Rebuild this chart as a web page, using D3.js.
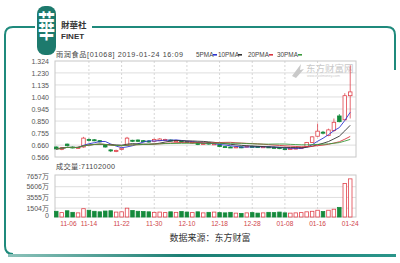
<!DOCTYPE html>
<html>
<head>
<meta charset="utf-8">
<script src="https://cdn.jsdelivr.net/npm/d3@7"></script>
<style>
  body { margin: 0; background: #fff; }
  svg text { font-family: "Liberation Sans", Arial, "Noto Sans CJK SC", sans-serif; }
</style>
</head>
<body>
<svg id="chart" width="400" height="263"></svg>
<script>
// ---- data ----
const dates = ["11-06","11-07","11-08","11-09","11-12","11-13","11-14","11-15","11-16","11-19",
  "11-20","11-21","11-22","11-23","11-26","11-27","11-28","11-29","11-30","12-03",
  "12-04","12-05","12-06","12-07","12-10","12-11","12-12","12-13","12-14","12-17",
  "12-18","12-19","12-20","12-21","12-24","12-27","12-28","12-31","01-02","01-03",
  "01-04","01-07","01-08","01-09","01-10","01-11","01-14","01-15","01-16","01-17",
  "01-18","01-21","01-22","01-23","01-24"];

const opens  = [.645,.625,.668,.645,.636,.645,.705,.702,.695,.665,
  .622,.610,.625,.660,.698,.700,.695,.692,.690,.695,
  .700,.700,.688,.692,.688,.676,.680,.666,.680,.668,
  .662,.648,.645,.642,.646,.645,.650,.648,.644,.646,
  .642,.640,.632,.630,.632,.636,.648,.680,.730,.762,
  .735,.775,.890,.860,1.050];
const highs  = [.650,.645,.672,.650,.648,.725,.712,.708,.700,.668,
  .628,.624,.640,.725,.702,.705,.700,.698,.712,.715,
  .710,.704,.700,.696,.692,.688,.685,.678,.684,.676,
  .665,.652,.650,.650,.650,.656,.655,.652,.650,.650,
  .648,.645,.638,.636,.640,.642,.685,.730,.830,.772,
  .790,.870,.905,1.070,1.290];
const lows   = [.625,.620,.650,.634,.630,.640,.690,.690,.680,.640,
  .605,.604,.620,.655,.684,.684,.682,.680,.686,.690,
  .694,.688,.684,.680,.676,.670,.660,.662,.664,.662,
  .643,.640,.638,.636,.636,.642,.644,.640,.640,.638,
  .636,.628,.625,.626,.628,.630,.646,.676,.725,.745,
  .730,.765,.840,.855,.870];
const closes = [.630,.640,.655,.640,.642,.715,.700,.698,.685,.645,
  .615,.618,.635,.715,.692,.690,.688,.686,.705,.708,
  .704,.692,.694,.685,.682,.684,.665,.672,.668,.670,
  .648,.645,.642,.646,.640,.652,.648,.645,.647,.642,
  .640,.632,.630,.633,.636,.640,.680,.725,.770,.755,
  .780,.840,.845,1.050,1.080];
// volume in 万 shares
const volumes = [900,650,1000,700,600,1400,1100,900,800,950,
  1000,750,800,1500,1050,900,850,800,700,750,
  650,800,700,850,750,650,800,600,700,750,
  650,600,700,550,500,600,650,550,600,700,
  650,750,600,550,600,650,800,900,1100,850,
  1100,1300,1650,6230,7110];

const priceTicks = [0.566,0.660,0.755,0.850,0.945,1.040,1.135,1.230,1.324];
const volTicks   = [0,1504,3555,5606,7657];
const dateTicks  = ["11-06","11-14","11-22","11-30","12-10","12-18","12-28","01-08","01-16","01-24"];
const maNames    = ["5PMA","10PMA","20PMA","30PMA"];
const maPeriods  = [5,10,20,30];
const maColors   = ["#2f35d0","#333333","#d8353f","#3d9a3d"];

const svg = d3.select("#chart");
const upColor = "#e0434c", downColor = "#158a3c";

const plot = {left: 55, right: 356};
const pTop = 61, pBottom = 157, vTop = 175, vBottom = 217;

const x  = d3.scaleBand().domain(dates).range([54.5, 352]).paddingInner(0.35);
const cx = d => x(d) + x.bandwidth() / 2;
const y  = d3.scaleLinear().domain([0.566, 1.324]).range([pBottom, pTop]);
const yv = d3.scaleLinear().domain([0, 7657]).range([216, 176]);

const data = dates.map((d, i) => ({date: d, open: opens[i], high: highs[i], low: lows[i], close: closes[i], vol: volumes[i]}));
const isUp = d => d.close >= d.open;

// ---- frame / branding ----
const defs = svg.append("defs");
const grad = defs.append("linearGradient").attr("id", "bar");
grad.append("stop").attr("offset", "0%").attr("stop-color", "#8cc2ba");
grad.append("stop").attr("offset", "45%").attr("stop-color", "#1c7f74");
grad.append("stop").attr("offset", "100%").attr("stop-color", "#2a958a");

svg.append("path")
  .attr("d", "M35,27 L13,27 Q5,27 5,35 L5,246 Q5,254 13,254")
  .attr("fill", "none").attr("stroke", "#1f8a7c").attr("stroke-width", 2);
svg.append("path")
  .attr("d", "M92,27 L387,27 Q395,27 395,35 L395,70")
  .attr("fill", "none").attr("stroke", "#1f8a7c").attr("stroke-width", 2);
svg.append("rect").attr("x", 8).attr("y", 254).attr("width", 388).attr("height", 3)
  .attr("fill", "url(#bar)");

svg.append("rect").attr("x", 37).attr("y", 6).attr("width", 19).attr("height", 49)
  .attr("rx", 8).attr("fill", "#1d7a6d");
svg.append("text").attr("x", 46.5).attr("y", 21).attr("text-anchor", "middle")
  .attr("transform", "scale(1,1.75)")
  .attr("font-size", 17).attr("fill", "#fff").attr("font-weight", "bold")
  .style("font-family", "'Noto Sans CJK TC'")
  .text("華");
svg.append("text").attr("x", 61).attr("y", 28).attr("font-size", 8.5)
  .attr("font-weight", "bold").attr("fill", "#333")
  .style("font-family", "'Noto Sans CJK TC'").text("財華社");
svg.append("text").attr("x", 61).attr("y", 38.5).attr("font-size", 8)
  .attr("font-weight", "bold").attr("fill", "#333").text("FINET");

// ---- grids ----
const grid = svg.append("g");
grid.selectAll(".hp").data(priceTicks.slice(1, -1)).join("line")
  .attr("x1", plot.left).attr("x2", plot.right)
  .attr("y1", d => y(d)).attr("y2", d => y(d))
  .attr("stroke", "#dedede").attr("stroke-width", 1);
grid.selectAll(".hv").data(volTicks.slice(1, -1)).join("line")
  .attr("class", "hv")
  .attr("x1", plot.left).attr("x2", plot.right)
  .attr("y1", d => yv(d)).attr("y2", d => yv(d))
  .attr("stroke", "#dedede").attr("stroke-width", 1);
[[pTop, pBottom], [vTop, vBottom]].forEach(([t, b]) => {
  grid.append("g").selectAll("line").data(dateTicks.slice(1, -1)).join("line")
    .attr("x1", d => cx(d)).attr("x2", d => cx(d))
    .attr("y1", t).attr("y2", b)
    .attr("stroke", "#d6d6d6").attr("stroke-dasharray", "2,2");
  svg.append("rect").attr("x", plot.left).attr("y", t)
    .attr("width", plot.right - plot.left).attr("height", b - t)
    .attr("fill", "none").attr("stroke", "#c8c8c8");
});

// watermark
const wm = svg.append("g").attr("fill", "#c9c9c9");
wm.append("path").attr("d", "M292,76 L301,64 L300,70 L304,69 L296,78 Z");
wm.append("text").attr("x", 306).attr("y", 72).attr("font-size", 9.5)
  .style("font-family", "'Noto Sans CJK SC'").text("东方财富网");
wm.append("text").attr("x", 307).attr("y", 77).attr("font-size", 3.5).text("www.eastmoney.com");

// ---- axes ----
const axP = svg.append("g").attr("transform", `translate(${plot.left - 3},0)`)
  .call(d3.axisLeft(y).tickValues(priceTicks).tickSize(0).tickFormat(d3.format(".3f")));
const axV = svg.append("g").attr("transform", `translate(${plot.left - 3},0)`)
  .call(d3.axisLeft(yv).tickValues(volTicks).tickSize(0).tickFormat(d => d === 0 ? "0" : d + "万"));
axV.selectAll(".tick").filter(d => d === 0).attr("transform", `translate(0,${vBottom - 1})`);
const axD = svg.append("g").attr("transform", `translate(0,${vBottom + 1})`)
  .call(d3.axisBottom(x).tickValues(dateTicks).tickSize(0));
[axP, axV, axD].forEach(a => {
  a.select(".domain").remove();
  a.selectAll("text").attr("font-size", 7).attr("fill", "#555")
    .style("font-family", "'Liberation Sans','Noto Sans CJK SC'");
});
axD.selectAll("text").attr("fill", "#d0454a").attr("font-size", 6.6).attr("dy", "0.8em");
axD.selectAll(".tick").filter(d => d === "11-06").select("text")
  .attr("text-anchor", "start").attr("dx", 4);

// ---- titles ----
svg.append("text").attr("x", 56).attr("y", 57).attr("font-size", 7.2).attr("fill", "#444")
  .attr("textLength", 127).attr("lengthAdjust", "spacing")
  .text("雨润食品[01068] 2019-01-24 16:09");
svg.append("text").attr("x", 56).attr("y", 169).attr("font-size", 7.2).attr("fill", "#444")
  .attr("textLength", 59).attr("lengthAdjust", "spacing")
  .text("成交量:71102000");

const legend = svg.append("g").selectAll("g").data(maNames).join("g")
  .attr("transform", (d, i) => `translate(${[196, 218, 248, 277][i]},57)`);
legend.append("text").attr("font-size", 6.4).attr("fill", "#444").text(d => d);
legend.append("rect").attr("x", (d, i) => [17, 20, 21, 21][i]).attr("y", -3)
  .attr("width", 4).attr("height", 1.6).attr("fill", (d, i) => maColors[i]);

// ---- candles ----
const candles = svg.append("g").selectAll("g").data(data).join("g");
candles.append("line")
  .attr("x1", d => cx(d.date)).attr("x2", d => cx(d.date))
  .attr("y1", d => y(d.high)).attr("y2", d => y(d.low))
  .attr("stroke", d => isUp(d) ? upColor : downColor).attr("stroke-width", 0.8);
candles.append("rect")
  .attr("x", d => x(d.date)).attr("width", x.bandwidth())
  .attr("y", d => y(Math.max(d.open, d.close)))
  .attr("height", d => Math.max(1, Math.abs(y(d.open) - y(d.close))))
  .attr("fill", d => isUp(d) ? "#fff" : downColor)
  .attr("stroke", d => isUp(d) ? upColor : downColor).attr("stroke-width", 0.8);

// moving averages
maPeriods.forEach((p, k) => {
  const ma = closes.map((c, i) => d3.mean(closes.slice(Math.max(0, i - p + 1), i + 1)));
  svg.append("path")
    .attr("d", d3.line().x((v, i) => cx(dates[i])).y(v => y(v))(ma))
    .attr("fill", "none").attr("stroke", maColors[k]).attr("stroke-width", 0.9);
});

// ---- volume ----
svg.append("g").selectAll("rect").data(data).join("rect")
  .attr("x", d => x(d.date)).attr("width", x.bandwidth())
  .attr("y", d => yv(d.vol)).attr("height", d => yv(0) - yv(d.vol) + 1)
  .attr("fill", d => isUp(d) ? "#fff" : downColor)
  .attr("stroke", d => isUp(d) ? upColor : downColor).attr("stroke-width", 0.8);

// source
svg.append("text").attr("x", 210).attr("y", 241).attr("text-anchor", "middle")
  .attr("font-size", 9).attr("fill", "#333")
  .style("font-family", "'Noto Sans CJK SC'")
  .text("数据来源：东方财富");
</script>
</body>
</html>
